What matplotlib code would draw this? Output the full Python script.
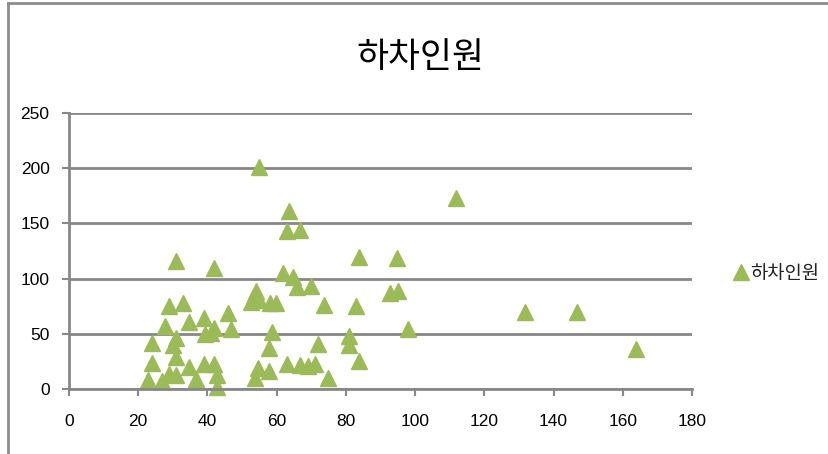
import matplotlib
matplotlib.use("Agg")
import matplotlib.pyplot as plt
from matplotlib.lines import Line2D

plt.rcParams['font.family'] = ['Liberation Sans', 'Noto Sans CJK KR', 'DejaVu Sans']

title = "하차인원"
series_name = "하차인원"

x_vals = [54.8, 63.7, 62.9, 66.8, 111.8, 30.9, 41.9, 83.8, 94.9, 61.8,
          64.7, 65.8, 69.8, 92.8, 95.0, 54.1, 52.7, 53.4, 55.0, 58.1,
          59.7, 73.8, 83.0, 131.8, 146.8, 97.9, 28.8, 32.9, 27.8, 34.8,
          38.9, 45.8, 46.8, 39.3, 41.9, 41.1, 58.7, 57.9, 71.8, 80.8,
          80.8, 163.9, 24.0, 31.0, 30.1, 30.9, 23.9, 22.9, 26.8, 28.8,
          31.0, 34.7, 36.8, 38.9, 41.9, 42.8, 42.8, 54.7, 57.9, 53.7,
          62.9, 66.8, 69.0, 71.0, 74.8, 83.8]
y_vals = [201, 161, 143, 144, 173, 116, 110, 120, 119, 105,
          101, 92, 93, 87, 89, 89, 79, 84, 81, 78,
          78, 76, 75, 70, 70, 54, 75, 78, 57, 61,
          64, 69, 54, 50, 55, 51, 52, 37, 41, 48,
          40, 36, 42, 46, 40, 29, 24, 8, 7, 14,
          13, 20, 9, 23, 23, 13, 2, 19, 16, 10,
          23, 22, 21, 23, 10, 25]

x_ticks = [0, 20, 40, 60, 80, 100, 120, 140, 160, 180]
y_ticks = [0, 50, 100, 150, 200, 250]

W, H = 829, 454
fig = plt.figure(figsize=(W / 100, H / 100), dpi=100)
fig.patch.set_facecolor("white")

ax = fig.add_axes([69 / W, 1 - 389 / H, (692 - 69) / W, (389 - 113) / H])
grid_c = "#878787"

ax.set_xlim(0, 180)
ax.set_ylim(0, 250)
ax.set_xticks(x_ticks)
ax.set_yticks(y_ticks)
ax.yaxis.grid(True, color=grid_c, linewidth=2.0)
ax.set_axisbelow(True)
for side in ("top", "right"):
    ax.spines[side].set_visible(False)
for side in ("left", "bottom"):
    ax.spines[side].set_color(grid_c)
    ax.spines[side].set_linewidth(2.0)
ax.tick_params(axis="both", direction="out", length=5, width=1.5, color=grid_c,
               labelsize=12.5, labelcolor="black")
ax.tick_params(axis="x", pad=13)
ax.tick_params(axis="y", pad=9)

ax.plot(x_vals, y_vals, linestyle="none", marker="^", markersize=11,
        color="#9BBB59", markeredgecolor="#9BBB59", clip_on=False,
        label=series_name)

fig.text(420 / W, 1 - 58 / H, title, ha="center", va="center",
         fontsize=25, family=['Noto Sans CJK KR', 'DejaVu Sans'])

leg = ax.legend(loc="center left", bbox_to_anchor=(727 / W, 1 - 273 / H),
                bbox_transform=fig.transFigure, frameon=False,
                handlelength=0.5, handletextpad=0.25, borderpad=0,
                prop={'family': ['Noto Sans CJK KR', 'DejaVu Sans'], 'size': 13.5})
for t in leg.get_texts():
    t.set_color("#222222")

# chart-area frame on the top and left edges
fig.add_artist(Line2D([8 / W, 1], [1 - 2.5 / H, 1 - 2.5 / H],
                      transform=fig.transFigure, color="#8c8c8c", linewidth=2))
fig.add_artist(Line2D([8 / W, 8 / W], [0, 1 - 2.5 / H],
                      transform=fig.transFigure, color="#8c8c8c", linewidth=2))

fig.savefig("out.png", dpi=100)
